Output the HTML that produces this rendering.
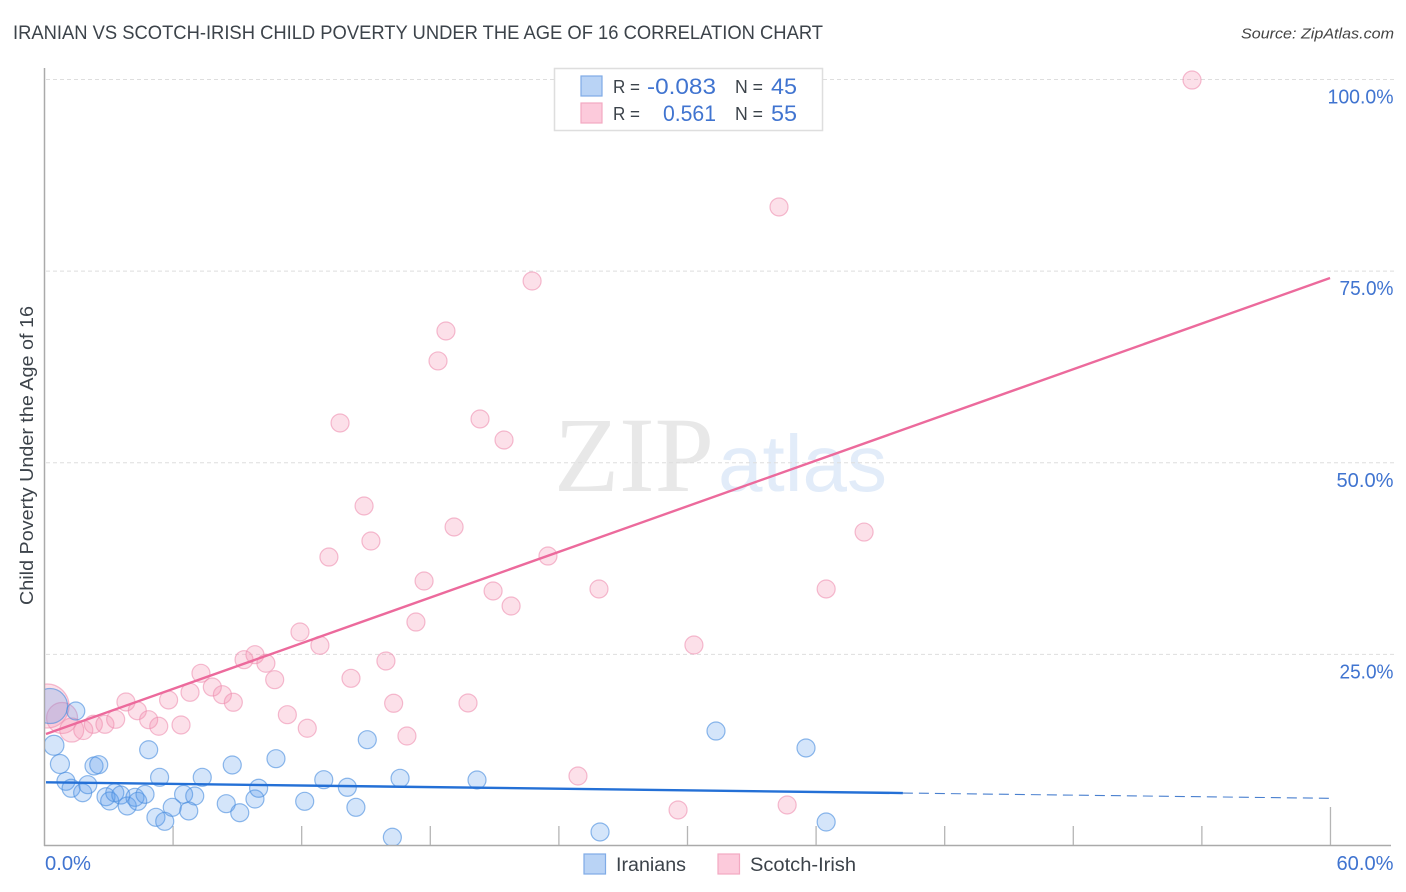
<!DOCTYPE html>
<html lang="en">
<head>
<meta charset="utf-8">
<title>Iranian vs Scotch-Irish Child Poverty Correlation Chart</title>
<style>
html,body{margin:0;padding:0;background:#fff;width:1406px;height:892px;overflow:hidden}
svg{display:block;font-family:"Liberation Sans",sans-serif}
</style>
</head>
<body>
<svg id="chart" xmlns="http://www.w3.org/2000/svg" width="1406" height="892" viewBox="0 0 1406 892">
  <defs><clipPath id="plot-clip"><rect x="45" y="60" width="1350" height="785"/></clipPath></defs>

  <text x="13" y="39" font-size="19" fill="#3c434a" textLength="810" lengthAdjust="spacingAndGlyphs">IRANIAN VS SCOTCH-IRISH CHILD POVERTY UNDER THE AGE OF 16 CORRELATION CHART</text>
  <text x="1241" y="38.5" font-size="15" font-style="italic" fill="#444" textLength="153" lengthAdjust="spacingAndGlyphs">Source: ZipAtlas.com</text>

  <g>
    <text x="554" y="491" font-family="'Liberation Serif',serif" font-size="107" fill="#e8e8e8" textLength="160" lengthAdjust="spacingAndGlyphs">ZIP</text>
    <text x="718" y="491" font-size="80" fill="#e2ecf9" textLength="169" lengthAdjust="spacingAndGlyphs">atlas</text>
  </g>

  <g id="grid"></g>
  <g id="axes"></g>
  <g id="points" clip-path="url(#plot-clip)"></g>
  <g id="trends"></g>
  <g id="tick-labels"></g>

  <text transform="translate(33 605) rotate(-90)" font-size="18.5" fill="#3c434a" textLength="299" lengthAdjust="spacingAndGlyphs">Child Poverty Under the Age of 16</text>

  <g>
    <rect x="554.5" y="68.5" width="268" height="62" fill="#fff" stroke="#dedede" stroke-width="1.5"/>
    <rect x="581" y="76" width="21" height="20" fill="#b9d3f5" stroke="#7fabe6" stroke-width="1.2"/>
    <rect x="581" y="103" width="21" height="20" fill="#fccadb" stroke="#f3a9c2" stroke-width="1.2"/>
    <text x="613" y="93" font-size="18" fill="#3c434a" textLength="27" lengthAdjust="spacingAndGlyphs">R =</text>
    <text x="647" y="94" font-size="22" fill="#4074d0" textLength="69" lengthAdjust="spacingAndGlyphs">-0.083</text>
    <text x="735" y="93" font-size="18" fill="#3c434a" textLength="28" lengthAdjust="spacingAndGlyphs">N =</text>
    <text x="771" y="94" font-size="22" fill="#4074d0" textLength="26" lengthAdjust="spacingAndGlyphs">45</text>
    <text x="613" y="120" font-size="18" fill="#3c434a" textLength="27" lengthAdjust="spacingAndGlyphs">R =</text>
    <text x="663" y="121" font-size="22" fill="#4074d0" textLength="53" lengthAdjust="spacingAndGlyphs">0.561</text>
    <text x="735" y="120" font-size="18" fill="#3c434a" textLength="28" lengthAdjust="spacingAndGlyphs">N =</text>
    <text x="771" y="121" font-size="22" fill="#4074d0" textLength="26" lengthAdjust="spacingAndGlyphs">55</text>
  </g>

  <g>
    <rect x="584" y="854" width="21.5" height="20" fill="#b9d3f5" stroke="#7fabe6" stroke-width="1.2"/>
    <text x="616" y="871" font-size="19" fill="#3c434a" textLength="70" lengthAdjust="spacingAndGlyphs">Iranians</text>
    <rect x="718" y="854" width="21.5" height="20" fill="#fccadb" stroke="#f3a9c2" stroke-width="1.2"/>
    <text x="750" y="871" font-size="19" fill="#3c434a" textLength="106" lengthAdjust="spacingAndGlyphs">Scotch-Irish</text>
  </g>
</svg>

<script>
const yTickValues = [25, 50, 75, 100];
const yTickLabels = ["25.0%", "50.0%", "75.0%", "100.0%"];
const xTickValues = [6, 12, 18, 24, 30, 36, 42, 48, 54, 60];
const xEndValues = [0, 60];
const xEndLabels = ["0.0%", "60.0%"];

const iranianX = [1.46,0.26,0.44,0.72,1.00,1.24,1.78,2.02,2.31,2.53,2.87,3.04,3.28,3.56,3.86,4.22,4.35,4.69,4.86,5.20,5.61,5.37,5.96,6.49,7.01,6.73,7.36,8.48,9.11,8.76,9.82,9.99,10.80,12.14,13.03,14.13,14.53,15.06,16.59,16.23,20.18,25.92,31.33,35.53,36.47];
const iranianY = [17.61,18.26,13.14,10.70,8.44,7.53,6.95,8.00,10.44,10.61,6.43,5.87,6.95,6.65,5.22,6.35,5.83,6.74,12.56,3.74,3.22,8.96,5.05,6.74,6.52,4.57,8.96,5.52,4.34,10.57,6.13,7.53,11.39,5.83,8.65,7.66,5.05,13.87,8.83,1.14,8.61,1.83,15.00,12.79,3.13];
const iranianSize = [9,17.5,10,9.5,9,9,9,9,9,9,9,9,9,9,9,9,9,9,9,9,9,9,9,9,9,9,9,9,9,9,9,9,9,9,9,9,9,9,9,9,9,9,9,9,9];

const scotchX = [0.12,0.82,1.27,1.81,2.28,2.82,3.32,3.80,4.33,4.86,5.33,6.37,5.79,6.79,7.30,7.83,8.30,8.81,9.31,9.82,10.33,10.74,11.33,12.26,12.85,14.30,15.93,16.29,16.91,11.92,53.54,34.27,22.75,18.73,18.36,13.79,20.32,21.44,14.91,15.23,19.11,13.27,23.49,17.71,38.24,36.47,25.87,20.93,21.77,17.33,30.30,19.76,24.89,29.56,34.65];
const scotchY = [18.26,16.70,15.13,15.13,15.88,15.88,16.53,18.79,17.65,16.48,15.62,15.79,19.05,20.05,22.53,20.74,19.74,18.75,24.31,24.96,23.84,21.70,17.13,15.36,26.18,21.88,24.14,18.62,14.35,27.92,99.93,83.37,73.71,67.19,63.28,55.19,55.71,52.97,44.36,39.79,41.62,37.70,37.83,34.57,40.96,33.53,33.53,33.27,31.31,29.22,26.22,18.66,9.13,4.70,5.35];
const scotchSize = [22,15.5,12,9.5,9,9,9,9,9,9,9,9,9,9,9,9,9,9,9,9,9,9,9,9,9,9,9,9,9,9,9,9,9,9,9,9,9,9,9,9,9,9,9,9,9,9,9,9,9,9,9,9,9,9,9];

const iranianTrendX = [0.07, 40.05, 60];
const iranianTrendY = [8.31, 6.91, 6.22];
const scotchTrendX = [0.07, 59.98];
const scotchTrendY = [14.61, 74.1];

const NS = "http://www.w3.org/2000/svg";
function xPos(v) { return 44.5 + v * 21.433; }
function yPos(v) { return 846 - v * 7.665; }
function make(tag, parent, attrs) {
  const el = document.createElementNS(NS, tag);
  for (const k in attrs) el.setAttribute(k, attrs[k]);
  parent.appendChild(el);
  return el;
}
function labelWidth(s) {
  if (s.length === 6) return 66;
  if (s[0] === "2" || s[0] === "7") return 54;
  if (s.length === 4) return 46;
  return 57;
}

const grid = document.getElementById("grid");
yTickValues.forEach(function (v) {
  const g = make("line", grid, {x1: 46, x2: 1394, y1: yPos(v), y2: yPos(v), stroke: "#dedede", "stroke-width": 1, "stroke-dasharray": "4 3"});
  
  
});

const axes = document.getElementById("axes");
const yAxis = make("line", axes, {x1: 44.5, x2: 44.5, y1: 68, y2: 846, stroke: "#aaa", "stroke-width": 1.5});


const xAxis = make("line", axes, {x1: 44, x2: 1391, y1: 845.5, y2: 845.5, stroke: "#aaa", "stroke-width": 1.5});


xTickValues.forEach(function (v, i) {
  const top = i === xTickValues.length - 1 ? 807 : 826;
  const t = make("line", axes, {x1: xPos(v), x2: xPos(v), y1: top, y2: 845, stroke: "#b5b5b5", "stroke-width": 1.3});
  
  
});

const pts = document.getElementById("points");
function drawSeries(xs, ys, sizes, fill, stroke, fillOp, strokeOp, name) {
  xs.forEach(function (x, i) {
    const c = make("circle", pts, {cx: xPos(x), cy: yPos(ys[i]), r: sizes[i], fill: fill, "fill-opacity": fillOp, stroke: stroke, "stroke-opacity": strokeOp, "stroke-width": 1.2});
    
    
  });
}
drawSeries(scotchX, scotchY, scotchSize, "#f48fb1", "#ee8fb0", 0.28, 0.6, "scotch-irish-point");
drawSeries(iranianX, iranianY, iranianSize, "#5a9bea", "#4a8ede", 0.26, 0.62, "iranian-point");

const trends = document.getElementById("trends");
const pinkLine = make("line", trends, {x1: xPos(scotchTrendX[0]), y1: yPos(scotchTrendY[0]), x2: xPos(scotchTrendX[1]), y2: yPos(scotchTrendY[1]), stroke: "#ec6a9c", "stroke-width": 2.4});


const blueLine = make("line", trends, {x1: xPos(iranianTrendX[0]), y1: yPos(iranianTrendY[0]), x2: xPos(iranianTrendX[1]), y2: yPos(iranianTrendY[1]), stroke: "#2470d6", "stroke-width": 2.4});


const blueDash = make("line", trends, {x1: xPos(iranianTrendX[1]), y1: yPos(iranianTrendY[1]), x2: xPos(iranianTrendX[2]), y2: yPos(iranianTrendY[2]), stroke: "#4a80cf", "stroke-width": 1.1, "stroke-dasharray": "10 6"});



const labels = document.getElementById("tick-labels");
yTickValues.forEach(function (v, i) {
  const t = make("text", labels, {x: 1393.5 - labelWidth(yTickLabels[i]), y: yPos(v) + 24, "font-size": 20, fill: "#4074d0", textLength: labelWidth(yTickLabels[i]), lengthAdjust: "spacingAndGlyphs"});
  t.textContent = yTickLabels[i];
  
  
});
xEndValues.forEach(function (v, i) {
  const w = labelWidth(xEndLabels[i]);
  const t = make("text", labels, {x: i === 0 ? xPos(v) + 0.5 : 1393.5 - w, y: 870, "font-size": 20, fill: "#4074d0", textLength: w, lengthAdjust: "spacingAndGlyphs"});
  t.textContent = xEndLabels[i];
  
  
});
</script>
</body>
</html>
